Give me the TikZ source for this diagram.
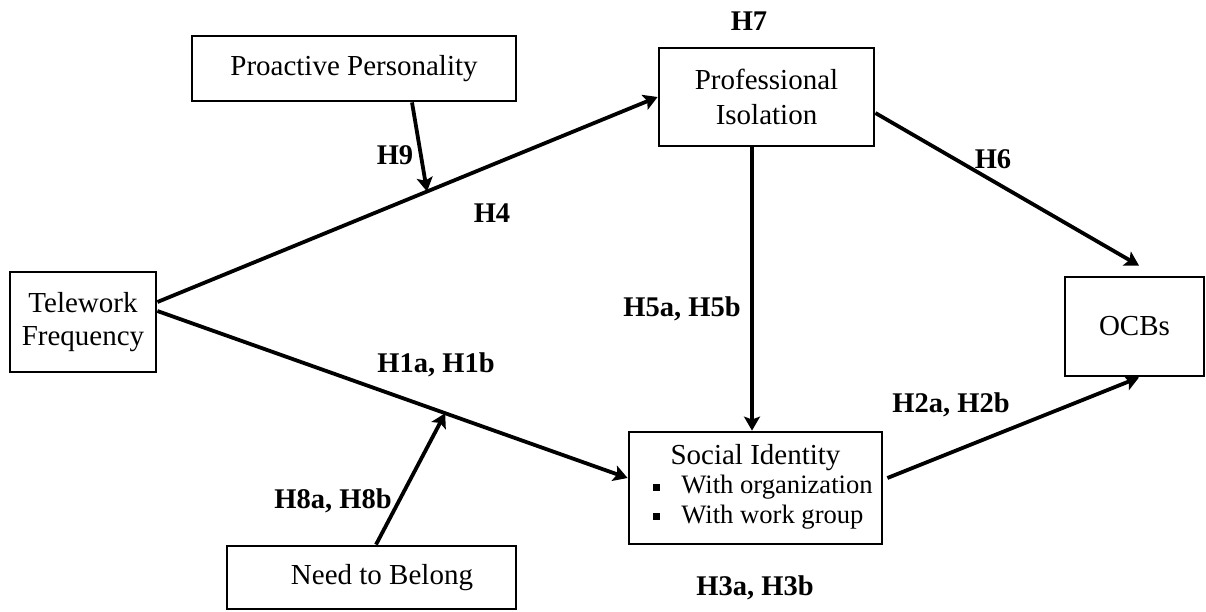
\documentclass[tikz,border=0pt]{standalone}
\usepackage{fontspec}
\setmainfont{Liberation Serif}
\usetikzlibrary{arrows.meta}
\begin{document}
\begin{tikzpicture}[x=1pt,y=-1pt,
  box/.style={draw, line width=2.8pt, inner sep=0pt, align=center, font=\fontsize{29}{33}\selectfont},
  conn/.style={line width=3.8pt, -{Stealth[length=14pt,width=16pt,inset=3pt]}},
  hlab/.style={anchor=base, inner sep=0pt, font=\fontsize{28.5}{30}\selectfont\bfseries}]
\useasboundingbox (0,0) rectangle (1206,611);

% boxes
\node[box, minimum width=324pt, minimum height=65pt] (pp) at (354,68.5) {Proactive Personality};
\node[box, minimum width=215pt, minimum height=98pt, font=\fontsize{29}{35}\selectfont] (pi) at (766.5,97) {Professional\\Isolation};
\node[box, minimum width=146pt, minimum height=100pt] (tf) at (83,322) {Telework\\Frequency};
\node[box, minimum width=139pt, minimum height=99pt] (ocb) at (1134.5,326.5) {OCBs};
\node[box, minimum width=253pt, minimum height=112pt, font=\fontsize{26.6}{29.5}\selectfont] (si) at (755.5,488) {%
  \hspace{15pt}\begin{tabular}{@{}l@{}}
  \multicolumn{1}{c}{\hspace{-15pt}\fontsize{29}{29.5}\selectfont Social Identity}\\
  \raisebox{3pt}{\rule{7pt}{7pt}}\hspace{21pt}With organization\\
  \raisebox{3pt}{\rule{7pt}{7pt}}\hspace{21pt}With work group
  \end{tabular}};
\node[box, minimum width=289pt, minimum height=63pt] (nb) at (371.5,577.5) {\hspace{21pt}Need to Belong};

% connectors
\draw[conn] ([yshift=20pt]tf.east) -- (pi.west) coordinate[pos=0.539] (m4);
\draw[conn] ([yshift=11pt]tf.east) -- ([yshift=10pt]si.west) coordinate[pos=0.612] (m1);
\draw[conn] ([xshift=-14.5pt]pi.south) -- ([xshift=-14.5pt]pi.south |- si.north);
\draw[conn] ([yshift=-16pt]pi.east) -- ([xshift=4.5pt,yshift=10pt]ocb.north);
\draw[conn] ([xshift=4pt,yshift=10pt]si.east) -- ([xshift=4.5pt]ocb.south);
\draw[conn] ([xshift=58pt]pp.south) -- (m4);
\draw[conn] ([xshift=4.5pt]nb.north) -- (m1);

% labels
\node[hlab] (l7) at (749,30) {H7};
\node[hlab] (l9) at (395,164) {H9};
\node[hlab] (l4) at (492,222) {H4};
\node[hlab] (l6) at (993,168) {H6};
\node[hlab] (l5) at (682,316) {H5a, H5b};
\node[hlab] (l1) at (436,372) {H1a, H1b};
\node[hlab] (l2) at (951,412) {H2a, H2b};
\node[hlab] (l8) at (333,508) {H8a, H8b};
\node[hlab] (l3) at (755,595) {H3a, H3b};
\end{tikzpicture}
\end{document}
